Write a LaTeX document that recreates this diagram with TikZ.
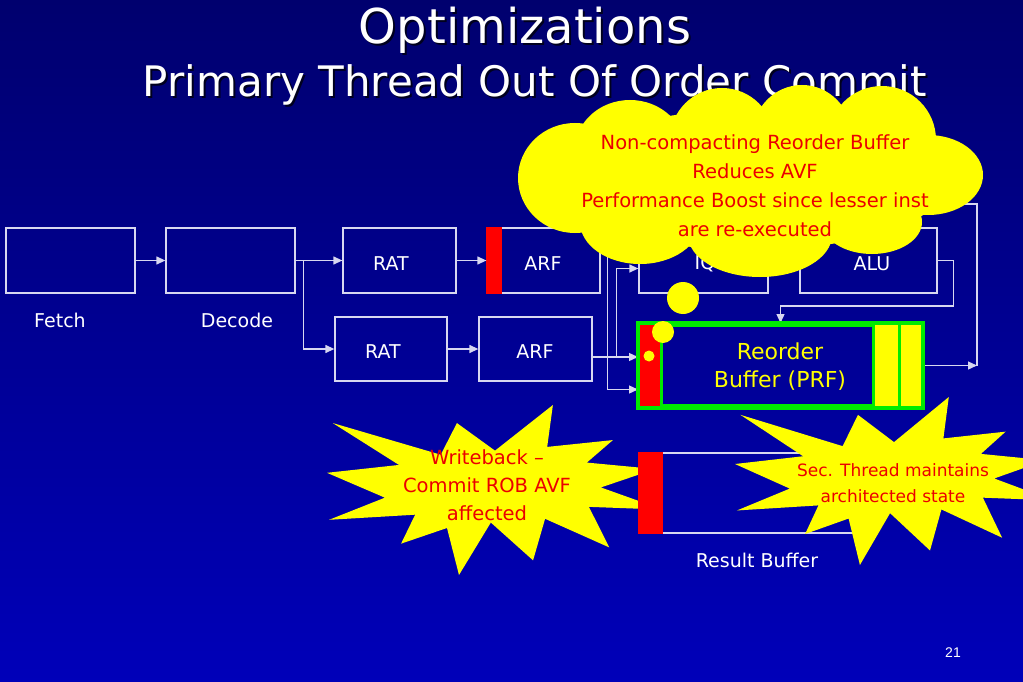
\documentclass[tikz,border=0pt]{standalone}
\usepackage{fontspec}
\setmainfont{DejaVu Sans}
\newfontfamily\arialf{Liberation Sans}
\usetikzlibrary{arrows.meta,calc}
\definecolor{bgtop}{RGB}{0,0,110}
\definecolor{bgbot}{RGB}{0,0,185}
\definecolor{ln}{RGB}{215,215,240}
\definecolor{ylw}{RGB}{255,255,0}
\definecolor{rd}{RGB}{255,0,0}
\definecolor{txtred}{RGB}{235,0,0}
\definecolor{grn}{RGB}{0,235,0}
\definecolor{shad}{RGB}{0,0,30}
\tikzset{
  box/.style={draw=ln, line width=1.3pt, inner sep=0pt, minimum height=65pt},
  lbl/.style={text=white, font=\fontsize{19}{22}\selectfont, inner sep=0pt},
  arr/.style={draw=ln, line width=1.3pt, -{Triangle[length=9pt,width=8pt]}},
  wire/.style={draw=ln, line width=1.3pt},
  redtxt/.style={text=txtred, align=center, inner sep=0pt},
  seal/.pic={\fill[ylw] (108,58) -- (145.22,0) -- (141.55,53.25) -- (183.8,44.57) -- (167.02,73.15) -- (210.97,81.37) -- (176.07,104.75) -- (216,132.9) -- (168.37,129.42) -- (181.45,180.95) -- (140.2,144.57) -- (132.47,197.37) -- (105.32,149.35) -- (84.85,216) -- (77.15,156.27) -- (47.62,176.17) -- (56.67,139.37) -- (1.35,145.87) -- (37.22,117.75) -- (0,86.15) -- (46.27,76.17) -- (3.7,22.95) -- (73.12,63.2) -- (83.52,22.95) -- cycle;}
}
\begin{document}
\begin{tikzpicture}[x=1pt,y=-1pt]
\useasboundingbox (0,0) rectangle (1023,682);
\shade[top color=bgtop, bottom color=bgbot] (0,0) rectangle (1023,682);

% title
\node[text=shad, font=\fontsize{48}{50}\selectfont] at (527,32) {Optimizations};
\node[text=white, font=\fontsize{48}{50}\selectfont] (t1) at (525,30) {Optimizations};
\node[text=shad, font=\fontsize{42}{44}\selectfont] at (537,87) {Primary Thread Out Of Order Commit};
\node[text=white, font=\fontsize{42}{44}\selectfont] (t2) at (535,85) {Primary Thread Out Of Order Commit};

% boxes
\node[box, minimum width=129pt] (fetch) at (70.5,260.5) {};
\node[box, minimum width=129pt] (decode) at (230.5,260.5) {};
\node[box, minimum width=113pt] (rat1) at (399.5,260.5) {};
\node[box, minimum width=113pt] (arf1) at (543.5,260.5) {};
\node[box, minimum width=112pt, minimum height=64pt] (rat2) at (391,349) {};
\node[box, minimum width=113pt, minimum height=64pt] (arf2) at (535.5,349) {};
\node[box, minimum width=129pt] (iq) at (703.5,260.5) {};
\node[box, minimum width=137pt] (alu) at (868.5,260.5) {};
\fill[rd] (arf1.north west) rectangle ($(arf1.south west)+(16,0)$);

\node[lbl] (lfetch) at (60,320) {Fetch};
\node[lbl] (ldecode) at (237,320) {Decode};
\node[lbl] (lrat1) at (391,264) {RAT};
\node[lbl] (larf1) at (543,264) {ARF};
\node[lbl] (lrat2) at (383,352) {RAT};
\node[lbl] (larf2) at (535,352) {ARF};
\node[lbl] (liq) at (705,264) {IQ};
\node[lbl] (lalu) at (872,264) {ALU};

% reorder buffer
\node[draw=grn, line width=4pt, minimum width=281pt, minimum height=81pt, inner sep=0pt] (rob) at (780.5,365.5) {};

% connectors
\draw[arr] (fetch) -- (decode);
\draw[arr] (decode.east) -- (rat1.west);
\draw[arr] ($(decode.east)+(8,0)$) |- (rat2.west);
\draw[arr] (rat1) -- (arf1);
\draw[arr] (rat2) -- (arf2);
\draw[arr] ([yshift=15pt]arf1.east) -- ++(7,0) |- ([yshift=-24pt]rob.west);
\draw[arr] ([yshift=-8pt]arf2.east) -- ([yshift=-8pt]arf2.east -| rob.west);
\draw[arr] ($([yshift=-8pt]arf2.east)+(24,0)$) |- ([yshift=-8pt]iq.west);
\draw[arr] (iq) -- (alu);
\draw[arr] (alu.east) -- ++(16,0) |- ($(rob.north)+(0,-17)$) -- (rob.north);
\coordinate (out) at (977,365.5);
\coordinate (feed) at (950,204);
\draw[arr] (rob.east) -- (out);
\draw[wire] (feed) -- (977,204) -- (out);

% ROB internals
\fill[rd] ($(rob.north west)+(2,2)$) rectangle ($(rob.south west)+(22,-2)$);
\fill[ylw] ($(rob.north east)+(-48,2)$) rectangle ($(rob.south east)+(-25,-2)$);
\fill[ylw] ($(rob.north east)+(-23,2)$) rectangle ($(rob.south east)+(-2,-2)$);
\draw[grn, line width=3pt] ($(rob.north west)+(23.5,0)$) -- ($(rob.south west)+(23.5,0)$);
\draw[grn, line width=3pt] ($(rob.north east)+(-49.5,0)$) -- ($(rob.south east)+(-49.5,0)$);
\draw[grn, line width=3pt] ($(rob.north east)+(-24,0)$) -- ($(rob.south east)+(-24,0)$);
\draw[grn, line width=4pt] (rob.north west) rectangle (rob.south east);
\node[text=ylw, align=center, font=\fontsize{22}{28}\selectfont, inner sep=0pt] (lrob) at (780,367) {Reorder\\Buffer (PRF)};

% star 1 (behind result buffer)
\pic[xscale=336/216, yscale=170/216] at (327,405) {seal};

% result buffer
\node[draw=ln, line width=1.3pt, minimum width=221pt, minimum height=80pt, inner sep=0pt] (resbuf) at (749.5,493) {};
\fill[rd] (resbuf.north west) rectangle ($(resbuf.south west)+(25,0)$);
\node[lbl] (lres) at (757,560) {Result Buffer};

% star 2
\pic[xscale=318/216, yscale=168/216] at (735,397) {seal};

\node[redtxt, font=\fontsize{19.5}{28}\selectfont] (s1) at (487,485) {Writeback –\\Commit ROB AVF\\affected};
\node[redtxt, font=\fontsize{17}{26}\selectfont] (s2) at (893,483) {Sec. Thread maintains\\architected state};

% cloud
\begin{scope}[ylw]
\fill (575,178) ellipse[x radius=57pt, y radius=55pt];
\fill (630,150) ellipse[x radius=55pt, y radius=50pt];
\fill (722,140) ellipse[x radius=52pt, y radius=52pt];
\fill (802,137) ellipse[x radius=50pt, y radius=52pt];
\fill (882,140) ellipse[x radius=54pt, y radius=54pt];
\fill (928,175) ellipse[x radius=55pt, y radius=40pt];
\fill (640,222) ellipse[x radius=60pt, y radius=42pt];
\fill (760,235) ellipse[x radius=72pt, y radius=42pt];
\fill (872,222) ellipse[x radius=50pt, y radius=32pt];
\fill (750,180) ellipse[x radius=200pt, y radius=70pt];
\end{scope}
\node[redtxt, font=\fontsize{19.5}{29}\selectfont] (cl) at (755,186) {Non-compacting Reorder Buffer\\Reduces AVF\\Performance Boost since lesser inst\\are re-executed};

% thought bubbles
\fill[ylw] (683,298) circle[radius=16pt];
\fill[ylw] (663,332) circle[radius=11pt];
\fill[ylw] (649,356) circle[radius=5.5pt];

\node[text=white, font=\arialf\fontsize{14}{16}\selectfont] (pg) at (953,653) {21};
\end{tikzpicture}
\end{document}
